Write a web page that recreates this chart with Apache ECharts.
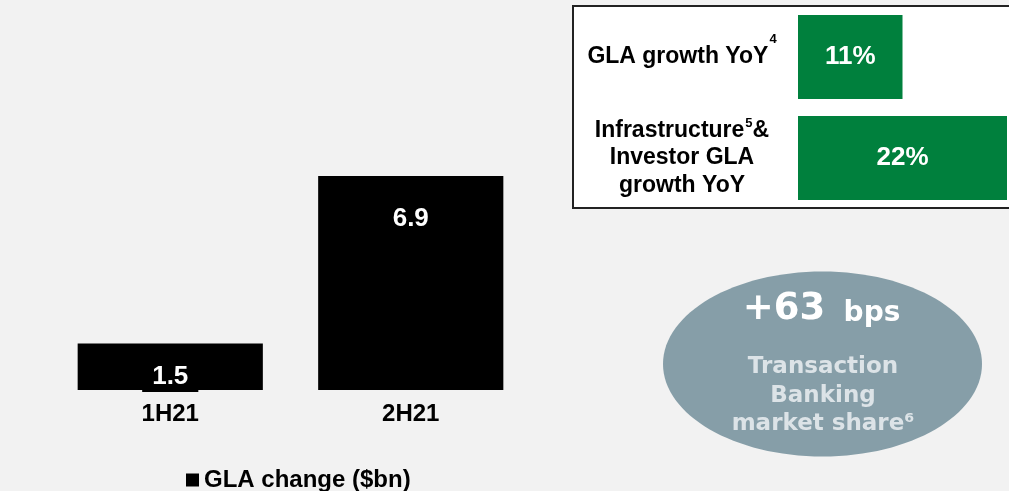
<!DOCTYPE html>
<html>
<head>
<meta charset="utf-8">
<script src="https://cdn.jsdelivr.net/npm/echarts@6/dist/echarts.min.js"></script>
<style>html,body{margin:0;padding:0;background:#f2f2f2}#c{width:1009px;height:491px}</style>
</head>
<body>
<div id="c"></div>
<script>
// ---- data ----
const periods = ['1H21', '2H21'];
const glaChange = [1.5, 6.9];
const seriesName = 'GLA change ($bn)';

const growthCats = ['GLA growth YoY', 'Infrastructure & Investor GLA growth YoY'];
const growthVals = [11, 22];
const growthFootnotes = ['4', '5'];

const bubbleValue = '+63';
const bubbleUnit = 'bps';
const bubbleLines = ['Transaction', 'Banking', 'market share\u2076'];

const chart = echarts.init(document.getElementById('c'));
const F = 'Liberation Sans, Arial, sans-serif';
const FV = 'DejaVu Sans, Verdana, sans-serif';

const option = {
  backgroundColor: '#f2f2f2',
  animation: false,
  legend: {
    data: [seriesName],
    left: 181, top: 463,
    icon: 'rect', itemWidth: 13, itemHeight: 13, itemGap: 5,
    textStyle: { fontFamily: F, fontWeight: 'bold', fontSize: 24, color: '#000' }
  },
  grid: [
    { left: 50, right: 478, top: 142, bottom: 101 },
    { left: 798, right: 2, top: 6.5, bottom: 282.5 }
  ],
  xAxis: [
    {
      type: 'category', gridIndex: 0, data: periods,
      axisLine: { show: false }, axisTick: { show: false },
      axisLabel: { margin: 12, fontFamily: F, fontWeight: 'bold', fontSize: 24, color: '#000' }
    },
    { type: 'value', gridIndex: 1, min: 0, max: 22, show: false }
  ],
  yAxis: [
    { type: 'value', gridIndex: 0, min: 0, max: 8, show: false },
    {
      type: 'category', gridIndex: 1, data: growthCats, inverse: true,
      axisLine: { show: false }, axisTick: { show: false },
      axisLabel: {
        margin: 116, align: 'center',
        formatter: function (v, i) {
          if (i === 0) return '{m1|GLA growth YoY}{s|' + growthFootnotes[0] + '}';
          return '{m|Infrastructure}{s|' + growthFootnotes[1] + '}{m|&}\n{m|Investor GLA}\n{m|growth YoY}';
        },
        rich: {
          m1: { fontFamily: F, fontWeight: 'bold', fontSize: 23, color: '#000', lineHeight: 48 },
          m: { fontFamily: F, fontWeight: 'bold', fontSize: 23, color: '#000', lineHeight: 27.5 },
          s: { fontFamily: F, fontWeight: 'bold', fontSize: 13, color: '#000', lineHeight: 13, verticalAlign: 'top', padding: [0, 0, 0, 1] }
        }
      }
    }
  ],
  series: [
    {
      name: seriesName, type: 'bar', xAxisIndex: 0, yAxisIndex: 0,
      barWidth: '77%',
      itemStyle: { color: '#000' },
      data: glaChange.map(function (v, i) {
        return {
          value: v,
          label: i === 0
            ? { position: 'insideBottom', distance: -2, backgroundColor: '#000', padding: [2, 10, 2, 10] }
            : { position: 'insideTop', distance: 30 }
        };
      }),
      label: { show: true, fontFamily: F, fontWeight: 'bold', fontSize: 26, color: '#fff' }
    },
    {
      name: 'growth', type: 'bar', xAxisIndex: 1, yAxisIndex: 1,
      barWidth: '83%',
      itemStyle: { color: '#00803d' },
      data: growthVals,
      label: {
        show: true, position: 'inside', fontFamily: F, fontWeight: 'bold', fontSize: 26, color: '#fff',
        formatter: function (p) { return p.value + '%'; }
      }
    }
  ],
  graphic: [
    {
      type: 'rect', z: 0, silent: true,
      shape: { x: 573, y: 6, width: 450, height: 202 },
      style: { fill: '#fff', stroke: '#222', lineWidth: 2 }
    },
    {
      type: 'ellipse', z: 0, silent: true,
      shape: { cx: 822.5, cy: 364, rx: 159.5, ry: 92.5 },
      style: { fill: '#869ea8' }
    },
    {
      type: 'text', z: 1, x: 784, y: 309, silent: true,
      style: { text: bubbleValue, fontFamily: FV, fontWeight: 'bold', fontSize: 37, fill: '#fff', align: 'center', verticalAlign: 'middle' }
    },
    {
      type: 'text', z: 1, x: 872, y: 314, silent: true,
      style: { text: bubbleUnit, fontFamily: FV, fontWeight: 'bold', fontSize: 28, fill: '#fff', align: 'center', verticalAlign: 'middle' }
    },
    {
      type: 'text', z: 1, x: 823, y: 396, silent: true,
      style: { text: bubbleLines.join('\n'), fontFamily: FV, fontWeight: 'bold', fontSize: 23, lineHeight: 28.5, fill: '#dce3e7', align: 'center', verticalAlign: 'middle' }
    }
  ]
};
chart.setOption(option);
</script>
</body>
</html>
